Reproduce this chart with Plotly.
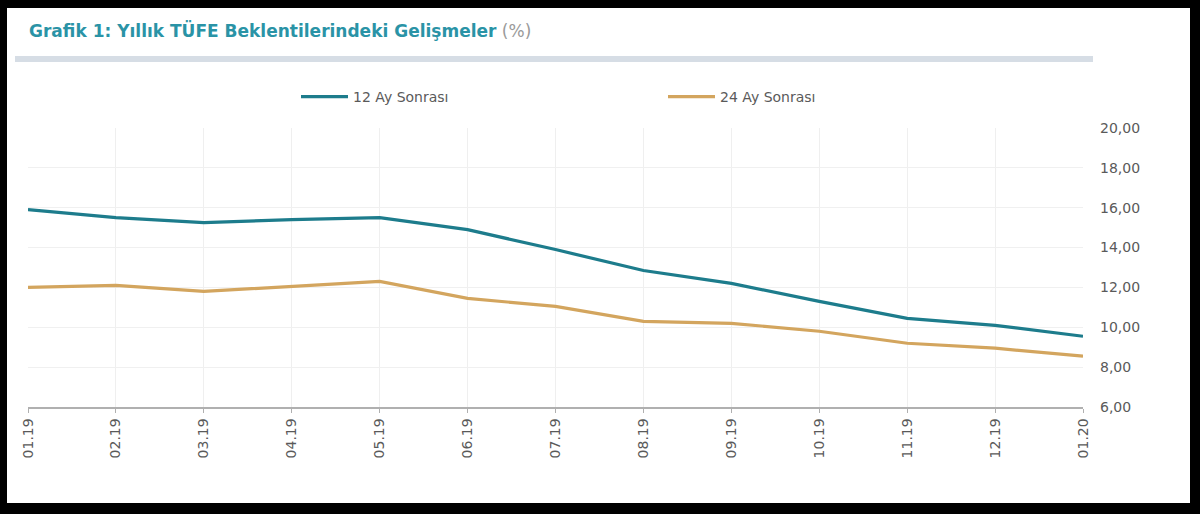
import plotly.graph_objects as go

categories = ["01.19", "02.19", "03.19", "04.19", "05.19", "06.19", "07.19",
              "08.19", "09.19", "10.19", "11.19", "12.19", "01.20"]
ay12 = [15.9, 15.5, 15.25, 15.4, 15.5, 14.9, 13.9, 12.85, 12.2, 11.3, 10.45, 10.1, 9.55]
ay24 = [12.0, 12.1, 11.8, 12.05, 12.3, 11.45, 11.05, 10.3, 10.2, 9.8, 9.2, 8.95, 8.55]
y_ticks = [6, 8, 10, 12, 14, 16, 18, 20]

W, H = 1200, 514
L, R, T, B = 28, 1083, 128, 407


def px(x):
    return (x - L) / (R - L)


def py(y):
    return (B - y) / (B - T)


TEAL = "#1d7c8c"
GOLD = "#d3a55e"
FONT = "DejaVu Sans"

fig = go.Figure()
fig.add_trace(go.Scatter(x=categories, y=ay12, mode="lines", name="12 Ay Sonrası",
                         line=dict(color=TEAL, width=3.2), legend="legend"))
fig.add_trace(go.Scatter(x=categories, y=ay24, mode="lines", name="24 Ay Sonrası",
                         line=dict(color=GOLD, width=3.2), legend="legend2"))

shapes = [
    # white card on black background
    dict(type="rect", xref="paper", yref="paper", x0=px(7), x1=px(1190), y0=py(503), y1=py(8),
         fillcolor="white", line=dict(width=0), layer="below"),
    # grey bar under title
    dict(type="rect", xref="paper", yref="paper", x0=px(15), x1=px(1093), y0=py(62), y1=py(56),
         fillcolor="#d6dde5", line=dict(width=0), layer="below"),
]

annotations = [
    dict(xref="paper", yref="paper", x=px(27), y=py(30), xanchor="left", yanchor="middle",
         showarrow=False,
         text="<b>Grafik 1: Yıllık TÜFE Beklentilerindeki Gelişmeler</b> "
              "<span style='color:#9a9a9a'>(%)</span>",
         font=dict(family=FONT, size=17, color="#2a93a6")),
]

legend_common = dict(orientation="h", xanchor="left", yanchor="middle", bgcolor="rgba(0,0,0,0)",
                     font=dict(family=FONT, size=14, color="#5a5a5a"), itemwidth=47)

fig.update_layout(
    width=W, height=H,
    paper_bgcolor="black", plot_bgcolor="white",
    margin=dict(l=L, r=W - R, t=T, b=H - B, pad=0),
    separators=",.",
    showlegend=True,
    legend=dict(x=px(296), y=py(97), **legend_common),
    legend2=dict(x=px(663), y=py(97), **legend_common),
    shapes=shapes,
    annotations=annotations,
    xaxis=dict(
        type="category", categoryorder="array", categoryarray=categories,
        range=[0, len(categories) - 1],
        tickangle=-90, tickfont=dict(family=FONT, size=14, color="#5a5a5a"),
        showgrid=True, gridcolor="#efefef", gridwidth=1,
        showline=True, linecolor="#b0b0b0", linewidth=1.5,
        ticks="outside", ticklen=4, tickcolor="#b0b0b0",
        zeroline=False,
    ),
    yaxis=dict(
        side="right", range=[6, 20], tickvals=y_ticks, tickformat=".2f",
        tickfont=dict(family=FONT, size=14, color="#5a5a5a"),
        showgrid=True, gridcolor="#f0f0f0", gridwidth=1,
        showline=False, zeroline=False, ticks="", ticklabelstandoff=16,
    ),
)

fig.write_html("out.html")
